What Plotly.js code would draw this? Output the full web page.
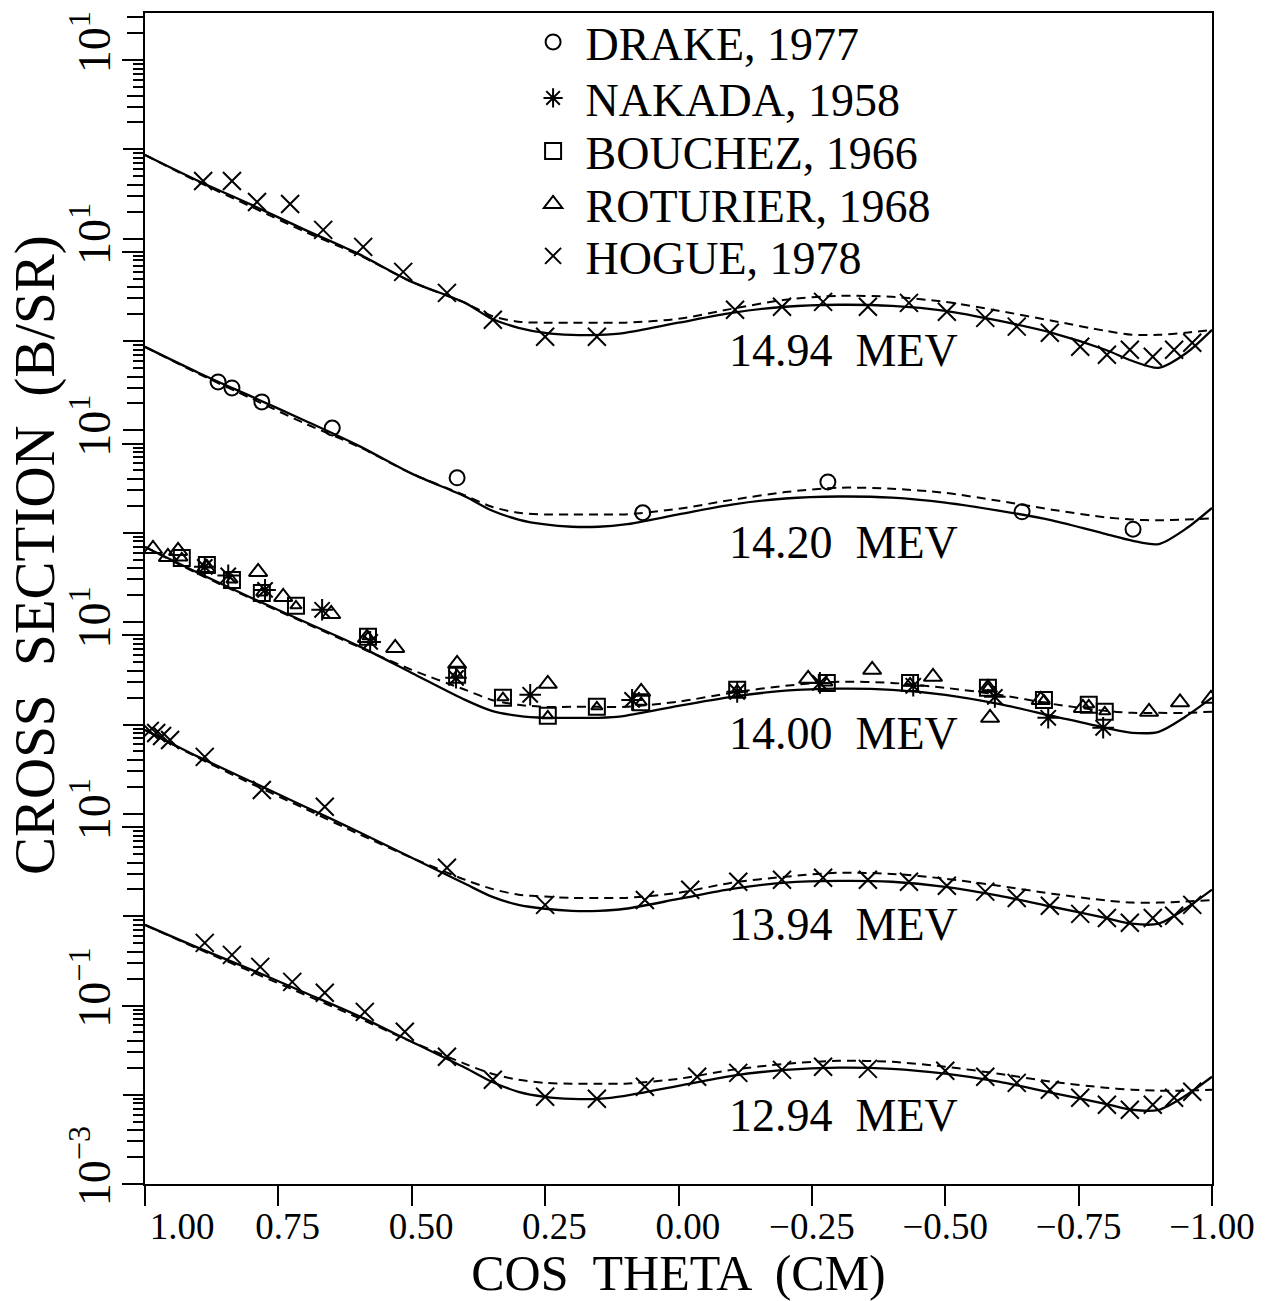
<!DOCTYPE html>
<html>
<head>
<meta charset="utf-8">
<script src="https://cdn.plot.ly/plotly-3.0.1.min.js"></script>
<style>html,body{margin:0;padding:0;background:#fff}</style>
</head>
<body>
<div id="chart" style="width:1281px;height:1301px"></div>
<script>
// ---------------- DATA ----------------
// Angle grid for the two model curves (cos theta, CM)
const cosGrid = [1.0, 0.9, 0.8, 0.7, 0.6, 0.5, 0.4, 0.35, 0.3, 0.25, 0.2, 0.15, 0.1, 0.0,
  -0.1, -0.2, -0.3, -0.4, -0.5, -0.6, -0.7, -0.8, -0.85, -0.9, -0.95, -1.0];

// Model curves (B/SR), each energy on its own panel scale
const solid_1494  = [0.864, 0.442, 0.238, 0.125, 0.0673, 0.0327, 0.0190, 0.0126, 0.0100, 0.00878, 0.00834, 0.00834, 0.00878, 0.0114, 0.0147, 0.0172, 0.0181, 0.0176, 0.0155, 0.0120, 0.00878, 0.00567, 0.00427, 0.00356, 0.00511, 0.00949];
const dashed_1494 = [0.864, 0.431, 0.226, 0.119, 0.0656, 0.0327, 0.0190, 0.0136, 0.0117, 0.0114, 0.0114, 0.0114, 0.0114, 0.0126, 0.0163, 0.0206, 0.0228, 0.0222, 0.0195, 0.0155, 0.0120, 0.00925, 0.00834, 0.00834, 0.00878, 0.00949];
const solid_1420  = [0.86, 0.442, 0.238, 0.128, 0.0673, 0.0327, 0.0181, 0.0126, 0.0100, 0.0088, 0.0083, 0.0083, 0.0088, 0.0114, 0.0147, 0.0172, 0.0181, 0.0176, 0.0155, 0.0126, 0.0098, 0.0069, 0.0058, 0.0053, 0.0078, 0.0135];
const dashed_1420 = [0.86, 0.431, 0.226, 0.119, 0.0656, 0.0327, 0.0186, 0.0139, 0.0119, 0.0114, 0.0114, 0.0114, 0.0114, 0.0132, 0.0166, 0.0203, 0.0227, 0.0221, 0.0199, 0.0162, 0.0129, 0.0106, 0.0100, 0.0098, 0.0100, 0.0103];
const solid_1400  = [0.694, 0.355, 0.186, 0.100, 0.0540, 0.0269, 0.0134, 0.0101, 0.00889, 0.00845, 0.00845, 0.00845, 0.00889, 0.0115, 0.0145, 0.0170, 0.0179, 0.0174, 0.0153, 0.0121, 0.00889, 0.00653, 0.00574, 0.00589, 0.00867, 0.0142];
const dashed_1400 = [0.694, 0.346, 0.182, 0.0977, 0.0527, 0.0291, 0.0174, 0.0134, 0.0118, 0.0112, 0.0112, 0.0112, 0.0112, 0.0128, 0.0161, 0.0193, 0.0214, 0.0208, 0.0183, 0.0153, 0.0121, 0.0101, 0.0096, 0.0096, 0.0096, 0.0099];
const solid_1394  = [0.870, 0.434, 0.228, 0.120, 0.0630, 0.0321, 0.0164, 0.0118, 0.00953, 0.00862, 0.00818, 0.00818, 0.00862, 0.0111, 0.0144, 0.0169, 0.0177, 0.0173, 0.0152, 0.0121, 0.00908, 0.0068, 0.00586, 0.00586, 0.00862, 0.0141];
const dashed_1394 = [0.870, 0.423, 0.216, 0.114, 0.0595, 0.0321, 0.0182, 0.0144, 0.0124, 0.0118, 0.0114, 0.0114, 0.0114, 0.0130, 0.0169, 0.0197, 0.0218, 0.0212, 0.0187, 0.0156, 0.0127, 0.0107, 0.0101, 0.0101, 0.0104, 0.0108];
const solid_1294  = [0.800, 0.442, 0.251, 0.139, 0.0766, 0.0392, 0.0201, 0.0140, 0.0108, 0.00949, 0.00901, 0.00901, 0.00973, 0.0126, 0.0163, 0.0190, 0.0201, 0.0195, 0.0172, 0.0140, 0.0105, 0.00792, 0.00679, 0.00679, 0.00973, 0.0159];
const dashed_1294 = [0.800, 0.431, 0.238, 0.132, 0.0727, 0.0392, 0.0222, 0.0172, 0.0147, 0.0136, 0.0133, 0.0133, 0.0133, 0.0151, 0.0190, 0.0222, 0.0240, 0.0234, 0.0206, 0.0172, 0.0140, 0.0120, 0.0114, 0.0111, 0.0111, 0.0114];

// Measurements (cos theta, B/SR)
const hogue_1494_cos = [0.891, 0.837, 0.790, 0.728, 0.666, 0.591, 0.516, 0.434, 0.348, 0.250, 0.153, -0.106, -0.194, -0.271, -0.355, -0.432, -0.503, -0.575, -0.634, -0.696, -0.753, -0.803, -0.846, -0.889, -0.929, -0.963];
const hogue_1494_xs  = [0.442, 0.442, 0.257, 0.244, 0.125, 0.0806, 0.0423, 0.0246, 0.0123, 0.00792, 0.00792, 0.0159, 0.0172, 0.0195, 0.0172, 0.0190, 0.0151, 0.0129, 0.0103, 0.00878, 0.00613, 0.00498, 0.00567, 0.00473, 0.00567, 0.00679];
const drake_1420_cos = [0.863, 0.837, 0.781, 0.649, 0.415, 0.067, -0.280, -0.644, -0.852];
const drake_1420_xs  = [0.348, 0.298, 0.208, 0.106, 0.0293, 0.0119, 0.0264, 0.0122, 0.0078];
const roturier_1400_cos = [0.985, 0.957, 0.938, 0.886, 0.788, 0.741, 0.651, 0.584, 0.531, 0.415, 0.245, 0.070, -0.243, -0.363, -0.477, -0.580, -0.584, -0.679, -0.758, -0.882, -0.940, -0.998];
const roturier_1400_xs  = [0.658, 0.536, 0.626, 0.404, 0.364, 0.191, 0.123, 0.0664, 0.0513, 0.0340, 0.0203, 0.0165, 0.0231, 0.0291, 0.0243, 0.0183, 0.00845, 0.0134, 0.0109, 0.00986, 0.0126, 0.0138];
const bouchez_1400_cos = [0.931, 0.884, 0.837, 0.781, 0.717, 0.582, 0.415, 0.329, 0.245, 0.153, 0.070, -0.110, -0.278, -0.434, -0.580, -0.685, -0.769, -0.799];
const bouchez_1400_xs  = [0.522, 0.436, 0.296, 0.212, 0.152, 0.0682, 0.0256, 0.0142, 0.00889, 0.0112, 0.0126, 0.0174, 0.0208, 0.0208, 0.0183, 0.0134, 0.0118, 0.00986];
const nakada_1400_cos = [0.888, 0.844, 0.775, 0.668, 0.578, 0.417, 0.278, 0.087, -0.110, -0.265, -0.440, -0.593, -0.693, -0.796];
const nakada_1400_xs  = [0.415, 0.333, 0.229, 0.137, 0.0599, 0.0237, 0.0153, 0.0134, 0.0165, 0.0208, 0.0193, 0.0145, 0.00845, 0.00653];
const hogue_1394_cos = [0.991, 0.979, 0.968, 0.953, 0.888, 0.781, 0.663, 0.434, 0.250, 0.063, -0.022, -0.112, -0.194, -0.271, -0.355, -0.432, -0.503, -0.575, -0.634, -0.696, -0.753, -0.803, -0.846, -0.889, -0.929, -0.963];
const hogue_1394_xs  = [0.849, 0.804, 0.745, 0.672, 0.434, 0.185, 0.120, 0.0248, 0.00953, 0.0108, 0.0141, 0.0173, 0.0182, 0.0192, 0.0182, 0.0173, 0.0156, 0.0134, 0.0114, 0.00931, 0.00756, 0.0068, 0.0060, 0.0068, 0.0072, 0.00953];
const hogue_1294_cos = [0.888, 0.837, 0.784, 0.724, 0.663, 0.588, 0.513, 0.434, 0.348, 0.250, 0.153, 0.063, -0.035, -0.112, -0.194, -0.271, -0.355, -0.500, -0.575, -0.634, -0.696, -0.753, -0.803, -0.846, -0.889, -0.929, -0.963];
const hogue_1294_xs  = [0.503, 0.369, 0.271, 0.184, 0.139, 0.0849, 0.0507, 0.0266, 0.0147, 0.00949, 0.00901, 0.0123, 0.0159, 0.0176, 0.0190, 0.0206, 0.0195, 0.0186, 0.0159, 0.0136, 0.0114, 0.00925, 0.00772, 0.00679, 0.00772, 0.00925, 0.0108];

// Labels
const energyLabels = ['12.94  MEV', '13.94  MEV', '14.00  MEV', '14.20  MEV', '14.94  MEV'];
const sourceNames = ['DRAKE, 1977', 'NAKADA, 1958', 'BOUCHEZ, 1966', 'ROTURIER, 1968', 'HOGUE, 1978'];
const xTickValues = [1.00, 0.75, 0.50, 0.25, 0.00, -0.25, -0.50, -0.75, -1.00];
const xTickLabels = ['1.00', '0.75', '0.50', '0.25', '0.00', '\u22120.25', '\u22120.50', '\u22120.75', '\u22121.00'];
const yLabelMain = ['10<sup>\u22123</sup>', '10<sup>\u22121</sup>', '10<sup>1</sup>'];
const xTitle = 'COS  THETA  (CM)';
const yTitle = 'CROSS  SECTION  (B/SR)';

// ---------------- DISPLAY ----------------
// Each energy is drawn on its own stacked scale (panel k shifted upward).
const PANEL_SHIFT_DECADES = 2.1485;
const panelFactor = k => Math.pow(10, k * PANEL_SHIFT_DECADES);
const onPanel = (arr, k) => arr.map(v => v * panelFactor(k));
const FONT = 'Liberation Serif, Times New Roman, serif';

const curves = [
  [solid_1294, dashed_1294, 0], [solid_1394, dashed_1394, 1], [solid_1400, dashed_1400, 2],
  [solid_1420, dashed_1420, 3], [solid_1494, dashed_1494, 4]
];
const traces = [];
curves.forEach(([s, d, k]) => {
  traces.push({x: cosGrid, y: onPanel(s, k), mode: 'lines', showlegend: false, hoverinfo: 'skip',
    line: {color: '#000', width: 2.3, shape: 'spline', smoothing: 0.8}});
  traces.push({x: cosGrid, y: onPanel(d, k), mode: 'lines', showlegend: false, hoverinfo: 'skip',
    line: {color: '#000', width: 2, dash: '9px,6px', shape: 'spline', smoothing: 0.8}});
});

const mk = (symbol, size) => ({symbol, size, color: '#000', line: {color: '#000', width: 2}});
traces.push({x: drake_1420_cos, y: onPanel(drake_1420_xs, 3), mode: 'markers', name: sourceNames[0],
  legend: 'legend', marker: mk('circle-open', 15)});
traces.push({x: nakada_1400_cos, y: onPanel(nakada_1400_xs, 2), mode: 'markers', name: sourceNames[1],
  legend: 'legend2', marker: mk('asterisk-open', 18)});
traces.push({x: bouchez_1400_cos, y: onPanel(bouchez_1400_xs, 2), mode: 'markers', name: sourceNames[2],
  legend: 'legend3', marker: mk('square-open', 16)});
traces.push({x: bouchez_1400_cos, y: onPanel(bouchez_1400_xs, 2), mode: 'markers', showlegend: false,
  marker: mk('triangle-up-open', 10)});
traces.push({x: roturier_1400_cos, y: onPanel(roturier_1400_xs, 2), mode: 'markers', name: sourceNames[3],
  legend: 'legend4', marker: mk('triangle-up-open', 16)});
traces.push({x: hogue_1494_cos.concat(hogue_1394_cos, hogue_1294_cos),
  y: onPanel(hogue_1494_xs, 4).concat(onPanel(hogue_1394_xs, 1), onPanel(hogue_1294_xs, 0)),
  mode: 'markers', name: sourceNames[4], legend: 'legend5', marker: mk('x-thin-open', 18)});

// y ticks: each panel has its own decades
const labVals = [], labText = [], plainDecades = [], minorA = [], minorB = [];
for (let k = 0; k < 5; k++) {
  const decs = k === 0 ? [-3, -2, -1, 0, 1] : [-1, 0, 1];
  decs.forEach(d => {
    const v = Math.pow(10, d) * panelFactor(k);
    let t = '';
    if (k === 0 && d === -3) t = yLabelMain[0];
    else if (k === 0 && d === -1) t = yLabelMain[1];
    else if (d === 1) t = yLabelMain[2];
    if (t) { labVals.push(v); labText.push(t); } else { plainDecades.push(v); }
    if (d < 1) {
      for (let m = 2; m <= 9; m++) {
        const mv = m * Math.pow(10, d) * panelFactor(k);
        (m <= 4 ? minorA : minorB).push(mv);
      }
    }
  });
  if (k === 4) { minorA.push(20 * panelFactor(4), 30 * panelFactor(4)); }
}
const yRange = [-3, 10.121];

const padX = v => (v > 0.99 ? '\u2002\u2002\u2002\u2002' : (v >= 0 ? '\u2002' : ''));

const legendRows = [0.9752, 0.9274, 0.8821, 0.8369, 0.7925];
const legendCfg = y => ({x: 0.352, y, xanchor: 'left', yanchor: 'middle', bgcolor: 'rgba(0,0,0,0)',
  borderwidth: 0, itemwidth: 55, font: {family: FONT, size: 46, color: '#000'}});

const labelY = [0.0581, 0.2212, 0.3843, 0.5482, 0.7114];
const annotations = energyLabels.map((t, i) => ({
  text: t, xref: 'paper', yref: 'paper', x: 0.5455, y: labelY[i], xanchor: 'left', yanchor: 'middle',
  showarrow: false, font: {family: FONT, size: 46, color: '#000'}
}));
annotations.push({text: yTitle, xref: 'paper', yref: 'paper', x: -0.1031, y: 0.5371, textangle: -90,
  xanchor: 'center', yanchor: 'middle', showarrow: false, font: {family: FONT, size: 57, color: '#000'}});

const layout = {
  width: 1281, height: 1301, autosize: false,
  margin: {l: 145, r: 69, t: 13, b: 117, autoexpand: false},
  paper_bgcolor: '#fff', plot_bgcolor: '#fff',
  font: {family: FONT, color: '#000'},
  xaxis: {
    range: [1, -1], showgrid: false, zeroline: false,
    showline: true, linewidth: 2, linecolor: '#000', mirror: true,
    ticks: 'outside', ticklen: 20, tickwidth: 2, tickcolor: '#000',
    tickmode: 'array', tickvals: xTickValues, ticktext: xTickLabels.map((t, i) => padX(xTickValues[i]) + t),
    ticklabelstandoff: -11,
    tickfont: {family: FONT, size: 37, color: '#000'},
    title: {text: xTitle, font: {family: FONT, size: 50, color: '#000'}, standoff: 22}
  },
  yaxis: {
    type: 'log', range: yRange, showgrid: false, zeroline: false,
    showline: true, linewidth: 2, linecolor: '#000', mirror: true,
    ticks: 'outside', ticklen: 21, tickwidth: 2, tickcolor: '#000',
    tickmode: 'array', tickvals: labVals, ticktext: labText, tickangle: -90,
    ticklabelshift: -11, ticklabelstandoff: -6,
    tickfont: {family: FONT, size: 46, color: '#000'},
    minor: {tickmode: 'array', tickvals: minorA, ticks: 'outside', ticklen: 16, tickwidth: 2, tickcolor: '#000', showgrid: false}
  },
  yaxis2: {
    type: 'log', range: yRange, overlaying: 'y', side: 'left', anchor: 'x',
    showgrid: false, zeroline: false, showline: false, showticklabels: false,
    ticks: 'outside', ticklen: 11, tickwidth: 2, tickcolor: '#000',
    tickmode: 'array', tickvals: minorB,
    minor: {tickmode: 'array', tickvals: plainDecades, ticks: 'outside', ticklen: 21, tickwidth: 2, tickcolor: '#000', showgrid: false}
  },
  legend: legendCfg(legendRows[0]), legend2: legendCfg(legendRows[1]), legend3: legendCfg(legendRows[2]),
  legend4: legendCfg(legendRows[3]), legend5: legendCfg(legendRows[4]),
  annotations
};
// an invisible trace so that the overlay tick axis is drawn
traces.push({x: [0], y: [1], yaxis: 'y2', mode: 'markers', marker: {opacity: 0}, showlegend: false, hoverinfo: 'skip'});

Plotly.newPlot('chart', traces, layout, {displayModeBar: false, staticPlot: true});
</script>
</body>
</html>
